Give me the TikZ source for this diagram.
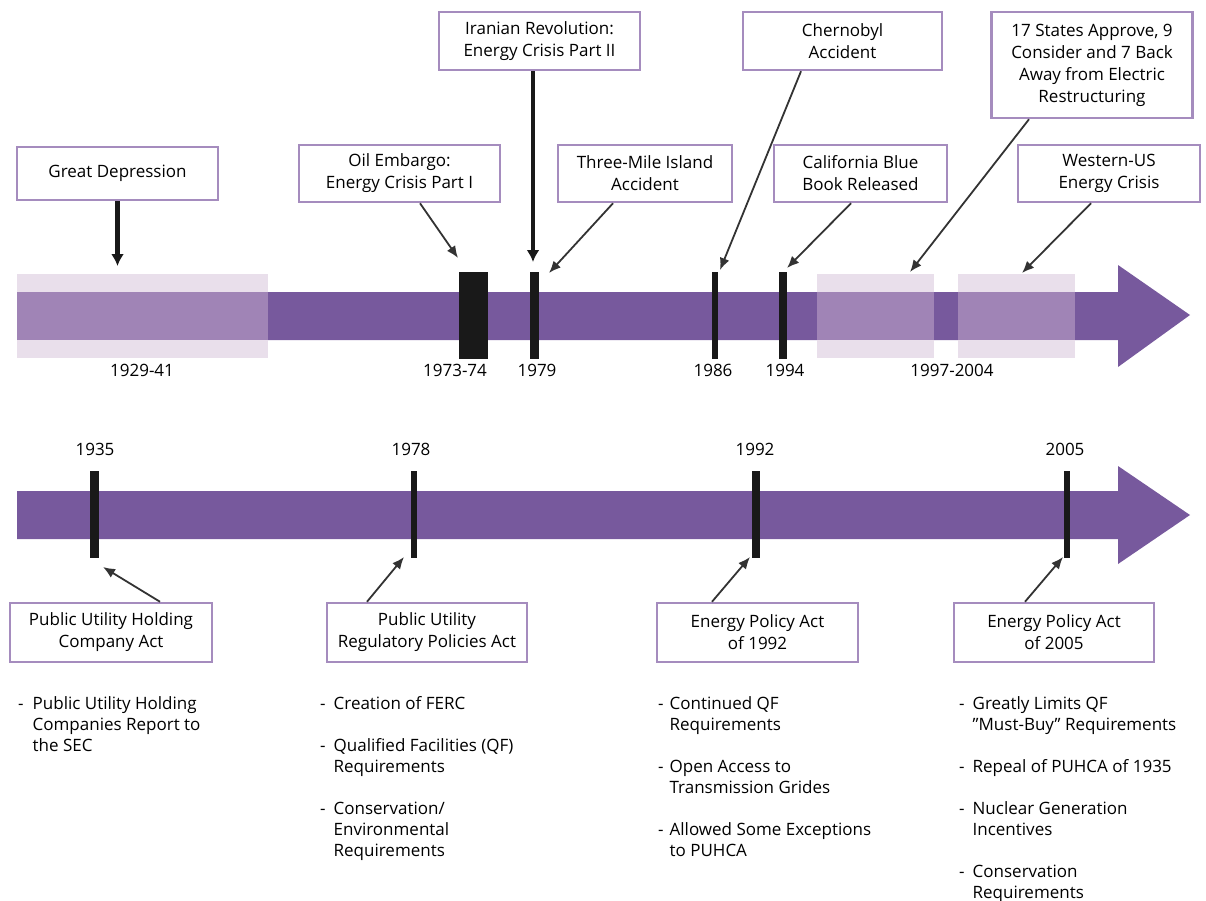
\documentclass[tikz,border=0pt]{standalone}
\usepackage{fontspec}
\setmainfont{Open Sans}
\usetikzlibrary{arrows.meta}
\definecolor{barpurple}{RGB}{119,89,157}
\definecolor{bandlight}{RGB}{233,223,235}
\definecolor{bandmid}{RGB}{160,132,182}
\definecolor{boxline}{RGB}{165,140,190}
\begin{document}
\begin{tikzpicture}[x=1pt, y=-1pt,
    every node/.style={font=\fontsize{17}{21}\selectfont, align=center},
    box/.style={rectangle, draw=boxline, line width=2.5pt, fill=white, font=\fontsize{17}{22}\selectfont,
        minimum width=201pt, minimum height=57pt, inner sep=2pt},
    yearbar/.style={rectangle, fill=black!90, minimum height=87pt, inner sep=0pt},
    notes/.style={anchor=base west, inner sep=0pt, align=left},
    arr/.style={-{Latex[length=12pt,width=10pt]}, line width=1.8pt, black!80},
    bigarr/.style={-{Latex[length=12pt,width=13pt]}, line width=4.5pt, black!90}
]
\useasboundingbox (0,0) rectangle (1206,900);

% upper timeline
\fill[barpurple] (17,292) -- (1118,292) -- (1118,265) -- (1190,315) -- (1118,367) -- (1118,340) -- (17,340) -- cycle;
\foreach \xa/\xb in {17/268, 817/934, 958/1075} {
    \fill[bandlight] (\xa,274) rectangle (\xb,358);
    \fill[bandmid] (\xa,292) rectangle (\xb,340);
}
\node[yearbar, minimum width=29pt] (m1973) at (473.5,315.5) {};
\node[yearbar, minimum width=9pt] (m1979) at (534.5,315.5) {};
\node[yearbar, minimum width=6pt] (m1986) at (714.5,315.5) {};
\node[yearbar, minimum width=8pt] (m1994) at (783,315.5) {};

\node (y1929) at (142,370) {1929-41};
\node (y1973) at (455,370) {1973-74};
\node (y1979) at (537,370) {1979};
\node (y1986) at (713,370) {1986};
\node (y1994) at (785,370) {1994};
\node (y1997) at (952,370) {1997-2004};

\node[box, minimum height=53pt] (depression) at (117.5,173.5) {Great Depression};
\node[box] (embargo) at (399.5,173.5) {Oil Embargo:\\Energy Crisis Part I};
\node[box, minimum height=58pt] (iran) at (539.5,41) {Iranian Revolution:\\Energy Crisis Part II};
\node[box, minimum width=174pt] (tmi) at (645,173.5) {Three-Mile Island\\Accident};
\node[box, minimum width=199pt, minimum height=58pt] (chernobyl) at (842.5,41) {Chernobyl\\Accident};
\node[box, minimum width=173pt] (bluebook) at (860.5,173.5) {California Blue\\Book Released};
\node[box, minimum height=106pt] (states) at (1092,65) {17 States Approve, 9\\Consider and 7 Back\\Away from Electric\\Restructuring};
\node[box, minimum width=182pt] (western) at (1109,173.5) {Western-US\\Energy Crisis};

\coordinate (tipDep) at (117.5,266);
\coordinate (tipIran) at (533,262);
\coordinate (tipOil) at (458,258);
\coordinate (tipTmi) at (549,273);
\coordinate (tipCher) at (720,270);
\coordinate (tipBlue) at (787,268);
\coordinate (tipStates) at (910,272);
\coordinate (tipWest) at (1022,273);

\draw[bigarr] (depression.south) -- (tipDep);
\draw[bigarr] ([xshift=-6.5pt]iran.south) -- (tipIran);
\draw[arr] ([xshift=20.5pt]embargo.south) -- (tipOil);
\draw[arr] ([xshift=-32pt]tmi.south) -- (tipTmi);
\draw[arr] ([xshift=-41.5pt]chernobyl.south) -- (tipCher);
\draw[arr] ([xshift=-9.5pt]bluebook.south) -- (tipBlue);
\draw[arr] ([xshift=-63pt]states.south) -- (tipStates);
\draw[arr] ([xshift=-18pt]western.south) -- (tipWest);

% lower timeline
\fill[barpurple] (17,491) -- (1118,491) -- (1118,466) -- (1190,515) -- (1118,564) -- (1118,539) -- (17,539) -- cycle;
\node[yearbar, minimum width=9pt] (m1935) at (94.5,514.5) {};
\node[yearbar, minimum width=6pt] (m1978) at (414,514.5) {};
\node[yearbar, minimum width=8pt] (m1992) at (756,514.5) {};
\node[yearbar, minimum width=6pt] (m2005) at (1066.5,514.5) {};

\node (y1935) at (95,449) {1935};
\node (y1978) at (411,449) {1978};
\node (y1992) at (755,449) {1992};
\node (y2005) at (1065,449) {2005};

\node[box, minimum width=202pt, minimum height=59pt] (puhca) at (111,632.5) {Public Utility Holding\\Company Act};
\node[box, minimum width=200pt, minimum height=59pt] (purpa) at (427,632.5) {Public Utility\\Regulatory Policies Act};
\node[box, minimum height=59pt] (epact92) at (757.5,632.5) {Energy Policy Act\\of 1992};
\node[box, minimum width=200pt, minimum height=59pt] (epact05) at (1054,632.5) {Energy Policy Act\\of 2005};

\coordinate (tip1935) at (103,567);
\coordinate (tip1978) at (404,557);
\coordinate (tip1992) at (750,557);
\coordinate (tip2005) at (1063,557);

\draw[arr] ([xshift=49pt]puhca.north) -- (tip1935);
\draw[arr] ([xshift=-60pt]purpa.north) -- (tip1978);
\draw[arr] ([xshift=-45.5pt]epact92.north) -- (tip1992);
\draw[arr] ([xshift=-29pt]epact05.north) -- (tip2005);

% provisions
\node[notes] (notes1935) at (18,709) {\begin{tabular}[t]{@{}l@{\hspace{9pt}}l@{}}
    - & Public Utility Holding\\
      & Companies Report to\\
      & the SEC
\end{tabular}};
\node[notes] (notes1978) at (320,709) {\begin{tabular}[t]{@{}l@{\hspace{8pt}}l@{}}
    - & Creation of FERC\\[21pt]
    - & Qualified Facilities (QF)\\
      & Requirements\\[21pt]
    - & Conservation/\\
      & Environmental\\
      & Requirements
\end{tabular}};
\node[notes] (notes1992) at (658,709) {\begin{tabular}[t]{@{}l@{\hspace{6pt}}l@{}}
    - & Continued QF\\
      & Requirements\\[21pt]
    - & Open Access to\\
      & Transmission Grides\\[21pt]
    - & Allowed Some Exceptions\\
      & to PUHCA
\end{tabular}};
\node[notes] (notes2005) at (959,709) {\begin{tabular}[t]{@{}l@{\hspace{8pt}}l@{}}
    - & Greatly Limits QF\\
      & \symbol{34}Must-Buy\symbol{34} Requirements\\[21pt]
    - & Repeal of PUHCA of 1935\\[21pt]
    - & Nuclear Generation\\
      & Incentives\\[21pt]
    - & Conservation\\
      & Requirements
\end{tabular}};
\end{tikzpicture}
\end{document}
